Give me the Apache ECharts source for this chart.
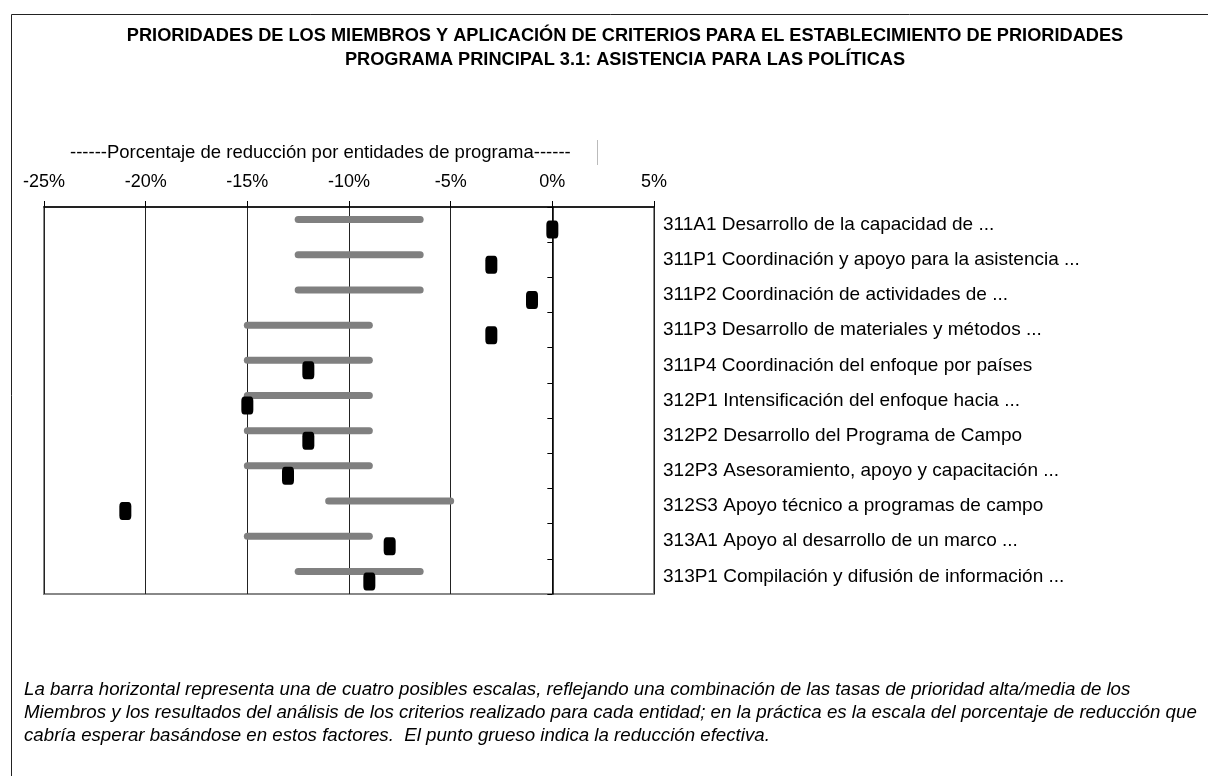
<!DOCTYPE html>
<html>
<head>
<meta charset="utf-8">
<script src="https://cdn.jsdelivr.net/npm/echarts@6/dist/echarts.min.js"></script>
<style>
html,body{margin:0;padding:0;background:#fff;}
#chart{width:1208px;height:776px;}
</style>
</head>
<body>
<div id="chart"></div>
<script>
const categories = [
  "311A1 Desarrollo de la capacidad de ...",
  "311P1 Coordinación y apoyo para la asistencia ...",
  "311P2 Coordinación de actividades de ...",
  "311P3 Desarrollo de materiales y métodos ...",
  "311P4 Coordinación del enfoque por países",
  "312P1 Intensificación del enfoque hacia ...",
  "312P2 Desarrollo del Programa de Campo",
  "312P3 Asesoramiento, apoyo y capacitación ...",
  "312S3 Apoyo técnico a programas de campo",
  "313A1 Apoyo al desarrollo de un marco ...",
  "313P1 Compilación y difusión de información ..."
];
// expected reduction range (low / high ends), percent
const rangeLow  = [-12.5, -12.5, -12.5, -15, -15, -15, -15, -15, -11, -15, -12.5];
const rangeHigh = [-6.5, -6.5, -6.5, -9, -9, -9, -9, -9, -5, -9, -6.5];
// actual reduction, percent
const actual = [0, -3, -1, -3, -12, -15, -12, -13, -21, -8, -9];

const xTicks = [-25, -20, -15, -10, -5, 0, 5];

const titleText = "PRIORIDADES DE LOS MIEMBROS Y APLICACIÓN DE CRITERIOS PARA EL ESTABLECIMIENTO DE PRIORIDADES\nPROGRAMA PRINCIPAL 3.1: ASISTENCIA PARA LAS POLÍTICAS";
const axisTitle = "------Porcentaje de reducción por entidades de programa------";
const footnote = "La barra horizontal representa una de cuatro posibles escalas, reflejando una combinación de las tasas de prioridad alta/media de los\nMiembros y los resultados del análisis de los criterios realizado para cada entidad; en la práctica es la escala del porcentaje de reducción que\ncabría esperar basándose en estos factores.  El punto grueso indica la reducción efectiva.";

const FONT = "'Liberation Sans', Arial, sans-serif";

const rangeData = categories.map((c, i) => [rangeLow[i], rangeHigh[i], i]);
const actualData = categories.map((c, i) => [actual[i], i]);

const chart = echarts.init(document.getElementById('chart'), null, {renderer: 'canvas'});
chart.setOption({
  animation: false,
  backgroundColor: '#fff',
  title: {
    text: titleText,
    left: 620,
    textAlign: 'center',
    top: 19,
    textStyle: {fontFamily: FONT, fontWeight: 'bold', fontSize: 18.2, lineHeight: 24, color: '#000'}
  },
  graphic: [
    {type: 'rect', shape: {x: 11.5, y: 14.5, width: 1300, height: 900}, style: {fill: null, stroke: '#222', lineWidth: 1}, silent: true, z: -1},
    {type: 'line', shape: {x1: 597.5, y1: 140, x2: 597.5, y2: 165}, style: {stroke: '#bbb', lineWidth: 1}, silent: true},
    {type: 'text', left: 70, top: 143, style: {text: axisTitle, font: '18.5px ' + FONT, fill: '#000'}},
    {type: 'text', left: 24, top: 678, style: {text: footnote, font: 'italic 18.7px ' + FONT, fill: '#000', lineHeight: 23}}
  ],
  grid: {left: 44, right: 554, top: 207, height: 387, show: true, borderColor: '#888', borderWidth: 2, backgroundColor: 'transparent'},
  xAxis: {
    type: 'value', position: 'top', min: xTicks[0], max: xTicks[xTicks.length - 1], interval: 5,
    axisLine: {show: true, lineStyle: {color: '#000', width: 1.5}},
    axisTick: {show: true, inside: false, length: 6, lineStyle: {color: '#000'}},
    axisLabel: {formatter: '{value}%', fontFamily: FONT, fontSize: 18, color: '#000', margin: 16},
    splitLine: {show: true, lineStyle: {color: '#222', width: 1}}
  },
  yAxis: [
    {
      type: 'category', inverse: true, data: categories, position: 'left',
      axisLine: {show: true, onZero: true, lineStyle: {color: '#000', width: 1.5}},
      axisTick: {show: true, length: 5, lineStyle: {color: '#000'}},
      axisLabel: {show: false},
      splitLine: {show: false}
    },
    {
      type: 'category', inverse: true, data: categories, position: 'right',
      axisLine: {show: false}, axisTick: {show: false},
      axisLabel: {fontFamily: FONT, fontSize: 19, color: '#000', margin: 9}
    }
  ],
  series: [
    {
      type: 'custom', yAxisIndex: 0, data: rangeData, z: 3,
      renderItem: function (params, api) {
        const p1 = api.coord([api.value(0), api.value(2)]);
        const p2 = api.coord([api.value(1), api.value(2)]);
        return {type: 'line', shape: {x1: p1[0], y1: p1[1] - 5, x2: p2[0], y2: p2[1] - 5},
          style: {stroke: '#808080', lineWidth: 7, lineCap: 'round'}};
      }
    },
    {
      type: 'scatter', yAxisIndex: 0, data: actualData, z: 4,
      symbol: 'roundRect', symbolSize: [12, 18], symbolOffset: [0, 5],
      itemStyle: {color: '#000', opacity: 1}
    }
  ]
});
</script>
</body>
</html>
